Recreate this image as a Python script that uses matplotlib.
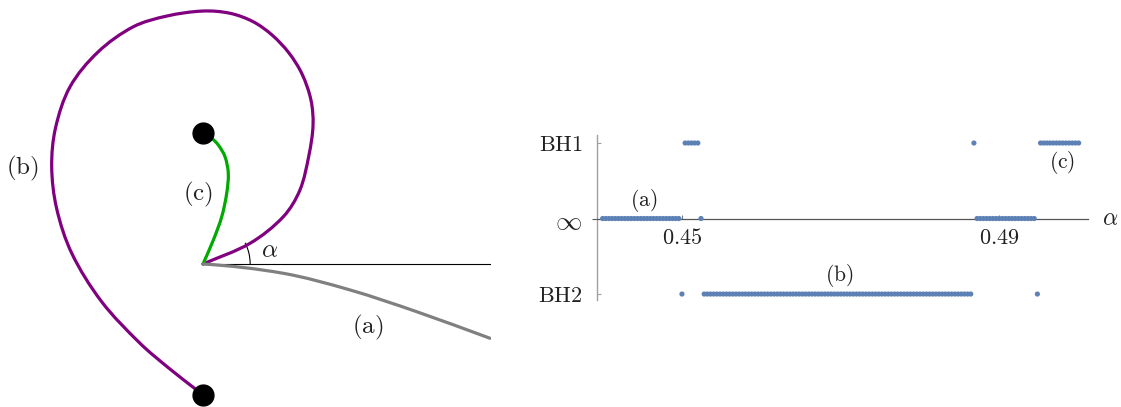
import numpy as np
import matplotlib
matplotlib.use("Agg")
import matplotlib.pyplot as plt
from matplotlib.path import Path
from matplotlib.patches import PathPatch, Arc
from matplotlib.ticker import FixedLocator, FixedFormatter

plt.rcParams["mathtext.fontset"] = "cm"

# ---------------- trajectories (units: black holes at (0, +1) and (0, -1)) ----------------
traj_b_x = [0, 0.359, 0.613, 0.740, 0.809, 0.840, 0.824, 0.756, 0.656, 0.527, 0.382,
            0.206, 0.0, -0.275, -0.532, -0.802, -1.015, -1.126, -1.155, -1.118,
            -1.002, -0.775, -0.481, -0.252, -0.048, 0.0]
traj_b_y = [0, 0.158, 0.361, 0.565, 0.832, 1.061, 1.252, 1.450, 1.611, 1.748, 1.850,
            1.914, 1.931, 1.893, 1.811, 1.618, 1.353, 1.038, 0.743, 0.427,
            0.082, -0.286, -0.605, -0.802, -0.962, -1.0]

traj_c_x = [0, 0.079, 0.143, 0.181, 0.193, 0.168, 0.117, 0.066, 0.0]
traj_c_y = [0, 0.183, 0.361, 0.540, 0.692, 0.819, 0.908, 0.960, 1.0]

traj_a_x = [0, 0.613, 1.122, 1.631, 2.191]
traj_a_y = [0, -0.071, -0.198, -0.364, -0.567]

bh_x = [0.0, 0.0]
bh_y = [1.0, -1.0]
launch_angle_deg = 26.8

# ---------------- outcome scan over alpha ----------------
alpha_step = 0.0004
outcome_levels = [1, 0, -1]
outcome_labels = [r"$\mathrm{BH1}$", r"$\infty$", r"$\mathrm{BH2}$"]
runs_bh1 = [(0.4504, 0.4520), (0.4868, 0.4868), (0.4952, 0.5000)]
runs_inf = [(0.4400, 0.4496), (0.4524, 0.4524), (0.4872, 0.4944)]
runs_bh2 = [(0.4500, 0.4500), (0.4528, 0.4864), (0.4948, 0.4948)]
x_ticks = [0.45, 0.49]


def smooth_path(xs, ys, start_dir=None):
    """Chord-length cubic Hermite curve through the points, as Bezier segments."""
    p = np.column_stack([xs, ys]).astype(float)
    d = np.linalg.norm(np.diff(p, axis=0), axis=1)
    n = len(p)
    m = np.zeros_like(p)
    m[0] = (p[1] - p[0]) / d[0]
    if start_dir is not None:
        v = np.asarray(start_dir, float)
        m[0] = v / np.linalg.norm(v)
    m[-1] = (p[-1] - p[-2]) / d[-1]
    for i in range(1, n - 1):
        m[i] = (p[i + 1] - p[i - 1]) / (d[i - 1] + d[i])
    verts = [p[0]]
    codes = [Path.MOVETO]
    for i in range(n - 1):
        verts += [p[i] + m[i] * d[i] / 3.0, p[i + 1] - m[i + 1] * d[i] / 3.0, p[i + 1]]
        codes += [Path.CURVE4] * 3
    return Path(verts, codes)


W, H = 1121, 407
fig = plt.figure(figsize=(W / 100, H / 100), dpi=100)

# ---------------- left panel ----------------
scale = 131.0
ox, oy = 203.0, 264.0
axL = fig.add_axes([0, 0, 491 / W, 1])
axL.set_xlim(-ox / scale, (491 - ox) / scale)
axL.set_ylim((oy - H) / scale, oy / scale)
axL.axis("off")

axL.plot([0, 2.3], [0, 0], color="black", lw=0.8, zorder=1)
axL.add_patch(PathPatch(smooth_path(traj_a_x, traj_a_y, start_dir=(1.0, -0.06)),
                        fill=False, edgecolor="#808080", lw=2.3, zorder=3,
                        capstyle="round"))
axL.add_patch(PathPatch(smooth_path(traj_b_x, traj_b_y), fill=False,
                        edgecolor="#800080", lw=2.3, zorder=2, capstyle="round"))
axL.add_patch(PathPatch(smooth_path(traj_c_x, traj_c_y), fill=False,
                        edgecolor="#00AA00", lw=2.3, zorder=2, capstyle="round"))
r_arc = 0.36
axL.add_patch(Arc((0, 0), 2 * r_arc, 2 * r_arc, theta1=0, theta2=launch_angle_deg,
                  color="black", lw=0.8, zorder=1))
axL.plot(bh_x, bh_y, "o", color="black", ms=15, zorder=5, clip_on=False)

lab_kw = dict(fontsize=18, ha="center", va="center", color="#222222")
axL.text(-1.376, 0.733, r"$\mathrm{(b)}$", **lab_kw)
axL.text(-0.038, 0.534, r"$\mathrm{(c)}$", **lab_kw)
axL.text(1.260, -0.481, r"$\mathrm{(a)}$", **lab_kw)
axL.text(0.508, 0.107, r"$\alpha$", **lab_kw)

# ---------------- right panel ----------------
axR = fig.add_axes([597 / W, 1 - 300 / H, 491 / W, 165 / H])
axR.set_xlim(0.43929, 0.50118)
axR.set_ylim(-1.079, 1.106)
axR.patch.set_visible(False)
for s in ["top", "right"]:
    axR.spines[s].set_visible(False)
axR.spines["bottom"].set_position(("data", 0))
axR.spines["bottom"].set_color("#555555")
axR.spines["bottom"].set_linewidth(0.9)
axR.spines["left"].set_color("#a0a0a0")
axR.spines["left"].set_linewidth(1.0)

dot_color = "#5E81B5"
for level, runs in zip(outcome_levels, [runs_bh1, runs_inf, runs_bh2]):
    for a0, a1 in runs:
        a = np.arange(a0, a1 + alpha_step / 2, alpha_step)
        axR.scatter(a, np.full_like(a, level), s=14, color=dot_color,
                    edgecolors="none", zorder=4, clip_on=False)

axR.xaxis.set_major_locator(FixedLocator(x_ticks))
axR.set_xticklabels([r"$%.2f$" % t for t in x_ticks])
axR.tick_params(axis="x", direction="in", length=3, width=0.8, color="#777777",
                pad=7, labelsize=16, labelcolor="#222222")

axR.yaxis.set_major_locator(FixedLocator([-1, 1]))
axR.set_yticklabels([outcome_labels[2], outcome_labels[0]])
axR.yaxis.set_minor_locator(FixedLocator([0]))
axR.yaxis.set_minor_formatter(FixedFormatter([outcome_labels[1]]))
axR.tick_params(axis="y", which="major", direction="in", length=3, width=0.8,
                color="#a0a0a0", pad=10.5, labelsize=16, labelcolor="#222222")
axR.tick_params(axis="y", which="minor", direction="out", length=3.6, width=0.8,
                color="#555555", pad=7, labelsize=19, labelcolor="#222222")

rlab = dict(fontsize=15.5, ha="center", va="center", color="#222222")
axR.text(0.44517, 0.232, r"$\mathrm{(a)}$", **rlab)
axR.text(0.46979, -0.748, r"$\mathrm{(b)}$", **rlab)
axR.text(0.49786, 0.748, r"$\mathrm{(c)}$", **rlab)
axR.text(0.50291, 0.0, r"$\alpha$", fontsize=17, ha="left", va="center",
         color="#222222", clip_on=False)

fig.savefig("out.png", dpi=100)
